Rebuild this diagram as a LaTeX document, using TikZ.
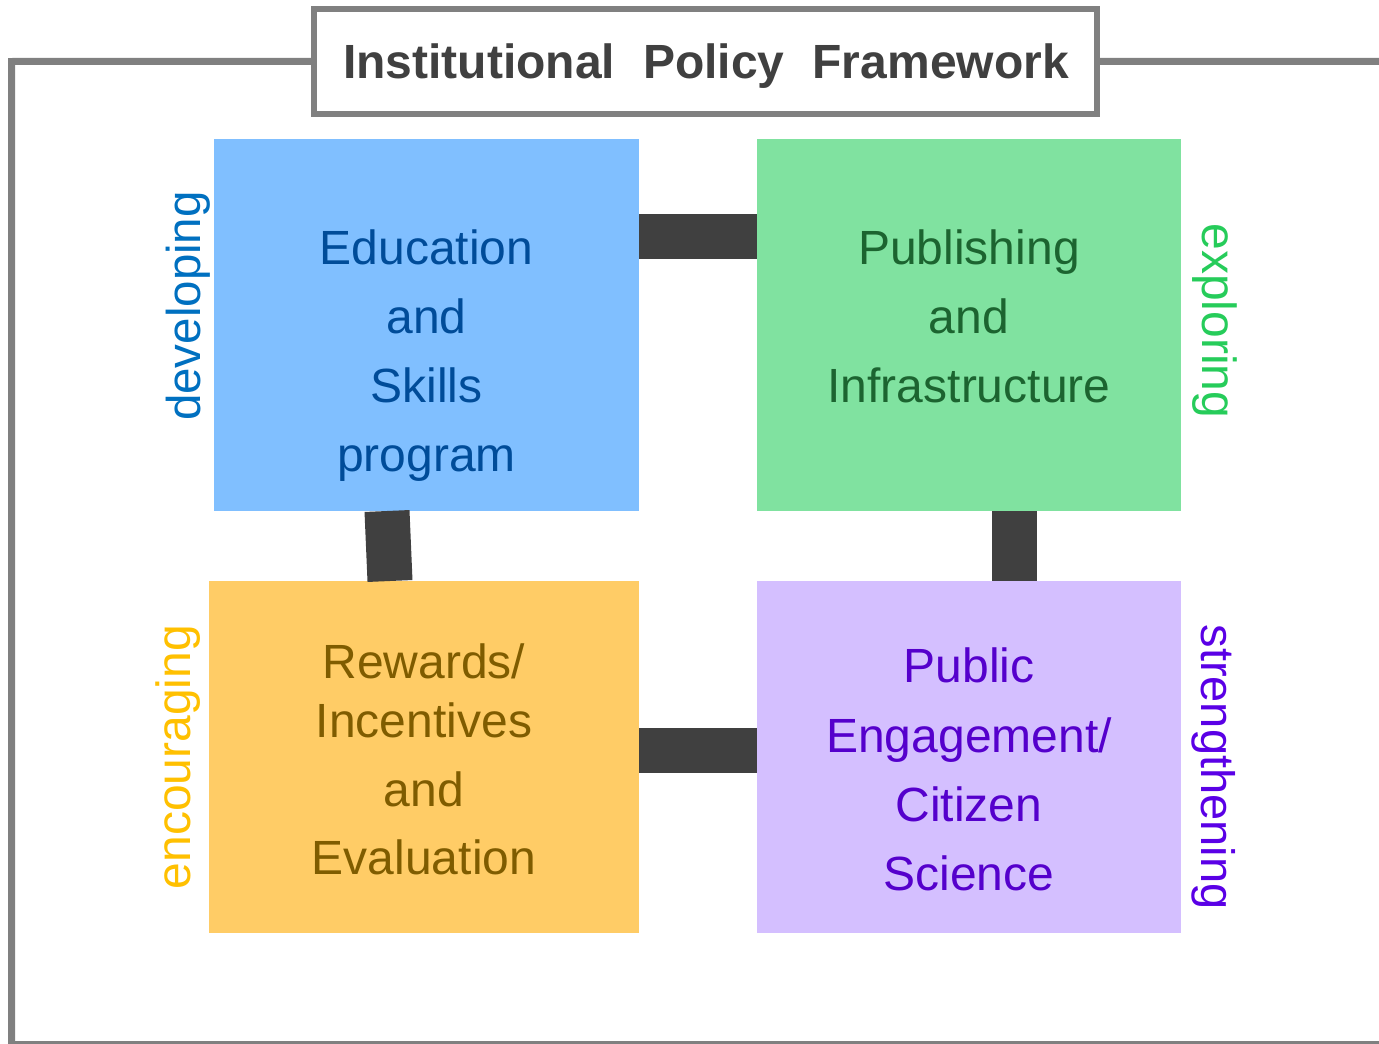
\documentclass[tikz,border=0pt]{standalone}
\usepackage{fontspec}
\setmainfont{Liberation Sans}
\definecolor{framecol}{RGB}{128,128,128}
\definecolor{conncol}{RGB}{64,64,64}
\definecolor{titlecol}{RGB}{64,64,64}
\definecolor{bluefill}{RGB}{128,191,255}
\definecolor{greenfill}{RGB}{128,226,160}
\definecolor{orangefill}{RGB}{255,204,102}
\definecolor{purplefill}{RGB}{212,191,255}
\definecolor{bluetext}{RGB}{0,76,153}
\definecolor{greentext}{RGB}{28,100,48}
\definecolor{orangetext}{RGB}{127,92,0}
\definecolor{purpletext}{RGB}{85,0,204}
\definecolor{devcol}{RGB}{0,112,192}
\definecolor{expcol}{RGB}{38,204,90}
\definecolor{enccol}{RGB}{255,192,0}
\definecolor{strcol}{RGB}{90,0,230}
\begin{document}
\begin{tikzpicture}[x=1pt,y=-1pt,
  frameline/.style={draw=framecol,line width=7pt,line join=miter},
  titlebox/.style={draw=framecol,fill=white,line width=6pt,inner sep=0pt,outer sep=0pt,minimum width=783pt,minimum height=104.5pt},
  area/.style={inner sep=0pt,outer sep=0pt},
  conn/.style={draw=conncol,line width=45pt,line cap=butt},
  txt/.style={inner sep=0pt,outer sep=0pt,anchor=base,font=\fontsize{48}{56}\selectfont},
  side/.style={inner sep=0pt,outer sep=0pt}]
\useasboundingbox (0,0) rectangle (1379,1044);
\fill[white] (0,0) rectangle (1379,1044);
% frame
\node[titlebox] (title) at (705.2,61.25) {};
\coordinate (tl) at (11.5,61.5);
\coordinate (bl) at (11.5,1044.5);
\coordinate (br) at (1400,1044.5);
\coordinate (tr) at (1400,61.5);
\draw[frameline] (title.west) -- (tl) -- (bl) -- (br);
\draw[frameline] (title.east) -- (tr);
\node[inner sep=0pt,anchor=base,text=titlecol,font=\fontsize{48}{56}\selectfont\bfseries] (titletext) at (706,78.5) {Institutional\hspace{28pt}Policy\hspace{28pt}Framework};
% boxes
\node[area,fill=bluefill,minimum width=425pt,minimum height=372pt] (blue) at (426.5,325) {};
\node[area,fill=greenfill,minimum width=424pt,minimum height=372pt] (green) at (969,325) {};
\node[area,fill=orangefill,minimum width=430pt,minimum height=352pt] (orange) at (424,757) {};
\node[area,fill=purplefill,minimum width=424pt,minimum height=352pt] (purple) at (969,757) {};
% connectors
\draw[conn] ([yshift=89pt]blue.east) -- ([yshift=89pt]green.west);
\draw[conn] ([xshift=-39.5pt]blue.south) -- ([xshift=-34pt]orange.north);
\draw[conn] ([xshift=45.5pt]green.south) -- ([xshift=45.5pt]purple.north);
\draw[conn] ([yshift=7pt]orange.east) -- ([yshift=7pt]purple.west);
% box texts
\node[txt,text=bluetext] (b1) at (426.5,264) {Education};
\node[txt,text=bluetext] (b2) at (426.5,333) {and};
\node[txt,text=bluetext] (b3) at (426.5,402) {Skills};
\node[txt,text=bluetext] (b4) at (426.5,471) {program};
\node[txt,text=greentext] (g1) at (969,264) {Publishing};
\node[txt,text=greentext] (g2) at (969,333) {and};
\node[txt,text=greentext] (g3) at (969,402) {Infrastructure};
\node[txt,text=orangetext] (o1) at (424,678) {Rewards/};
\node[txt,text=orangetext] (o2) at (424,737) {Incentives};
\node[txt,text=orangetext] (o3) at (424,806) {and};
\node[txt,text=orangetext] (o4) at (424,874) {Evaluation};
\node[txt,text=purpletext] (p1) at (969,682) {Public};
\node[txt,text=purpletext] (p2) at (969,752) {Engagement/};
\node[txt,text=purpletext] (p3) at (969,821) {Citizen};
\node[txt,text=purpletext] (p4) at (969,890) {Science};
% side labels
\node[side,rotate=90,text=devcol,font=\fontsize{47.5}{56}\selectfont] (dev) at (188.5,306) {developing};
\node[side,rotate=-90,text=expcol,font=\fontsize{48}{56}\selectfont] (exp) at (1215,321) {exploring};
\node[side,rotate=90,text=enccol,font=\fontsize{48}{56}\selectfont] (enc) at (178,757) {encouraging};
\node[side,rotate=-90,text=strcol,font=\fontsize{47}{56}\selectfont] (str) at (1214,767) {strengthening};
\end{tikzpicture}
\end{document}
